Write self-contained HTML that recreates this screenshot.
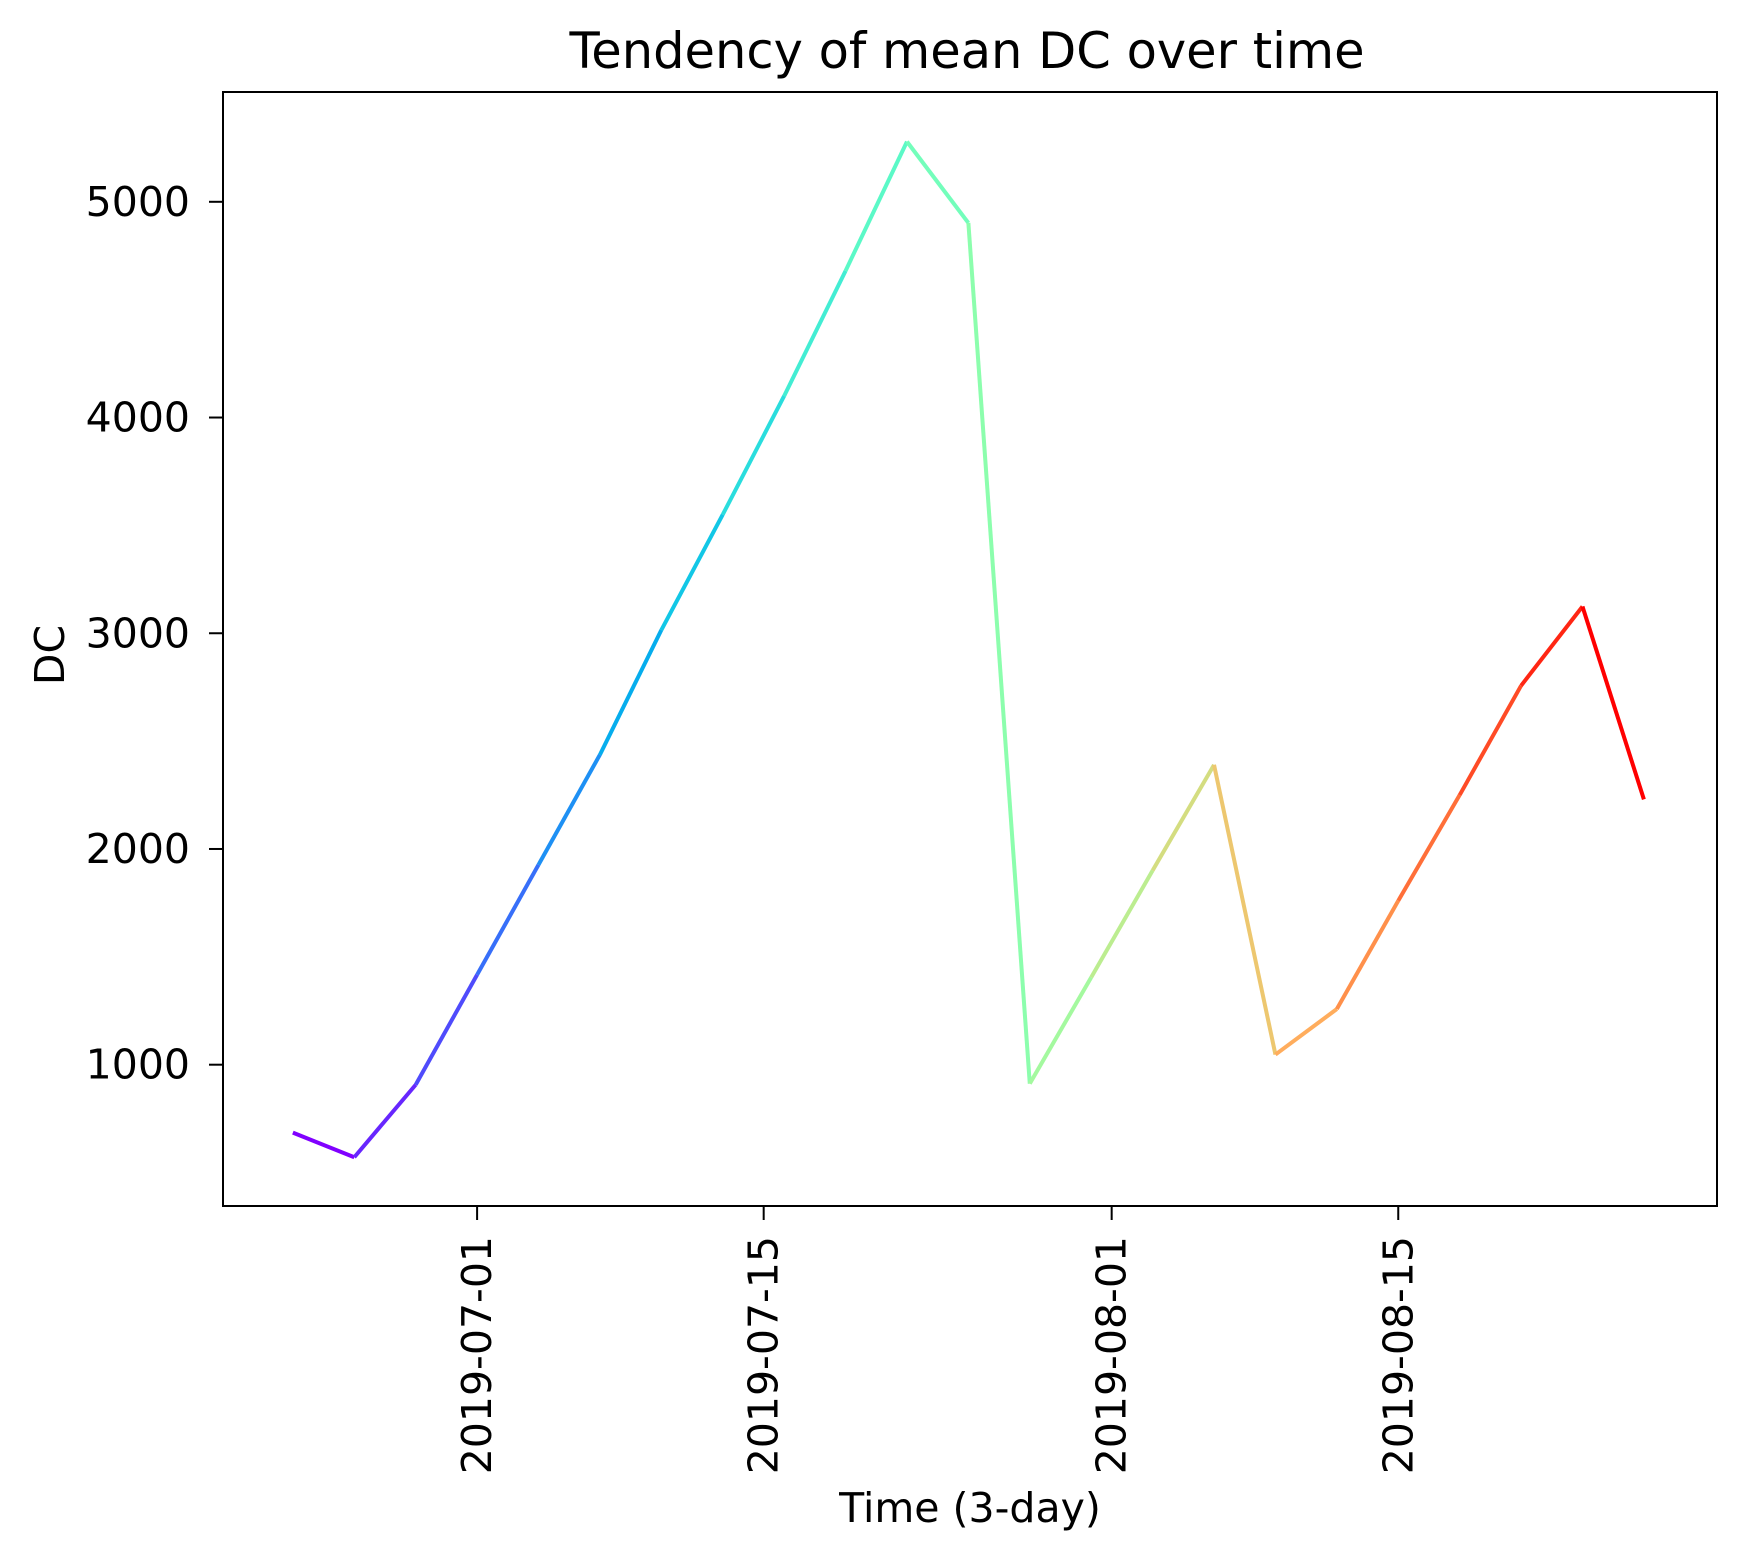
<!DOCTYPE html>
<html><head><meta charset="utf-8"><style>
html,body{margin:0;padding:0;background:#fff}
svg{display:block;font-family:"DejaVu Sans","Liberation Sans",sans-serif}
</style></head><body>
<svg id="chart" width="1739" height="1559" viewBox="0 0 1739 1559">
<rect x="0" y="0" width="1739" height="1559" fill="#fff"/>
<text x="967" y="68" font-size="49.5" text-anchor="middle">Tendency of mean DC over time</text>
<g id="plot"></g>
<rect x="223" y="92" width="1494" height="1114" fill="none" stroke="#000" stroke-width="2"/>
<text x="0" y="0" font-size="41" text-anchor="middle" transform="translate(64,655) rotate(-90)">DC</text>
<text x="970" y="1522" font-size="41" text-anchor="middle">Time (3-day)</text>
</svg>
<script>
const days = [-9,-6,-3,0,3,6,9,12,15,18,21,24,27,30,33,36,39,42,45,48,51,54,57];
const values = [685,571,907,1417,1927,2437,3015,3550,4100,4680,5279,4902,912,1405,1900,2390,1047,1258,1760,2250,2757,3124,2230];
const yTicks = [1000,2000,3000,4000,5000];
const xTickDays = [0,14,31,45];
const xTickLabels = ["2019-07-01","2019-07-15","2019-08-01","2019-08-15"];

const NS = "http://www.w3.org/2000/svg";
const g = document.getElementById("plot");
const L=223,R=1717,T=92,B=1206;
function xs(d){return 477.1 + d*20.47;}
function ys(v){return 1064.7 - (v-1000)*(1064.7-201.8)/4000;}
function rainbow(t){
  const r=Math.min(1,Math.max(0,Math.abs(2*t-0.5)));
  const gg=Math.min(1,Math.max(0,Math.sin(Math.PI*t)));
  const b=Math.min(1,Math.max(0,Math.cos(Math.PI*t/2)));
  return `rgb(${Math.round(r*255)},${Math.round(gg*255)},${Math.round(b*255)})`;
}
function mk(tag,attrs){const e=document.createElementNS(NS,tag);for(const k in attrs)e.setAttribute(k,attrs[k]);g.appendChild(e);return e;}

yTicks.forEach((v,i)=>{
  const y=ys(v);
  const t=mk("line",{x1:L-14,x2:L,y1:y,y2:y,stroke:"#000","stroke-width":2});
  
  
  const lb=mk("text",{x:190,y:y+14,"font-size":41,"text-anchor":"end"});
  lb.textContent=v;
  
  
});
xTickDays.forEach((d,i)=>{
  const x=xs(d);
  const t=mk("line",{x1:x,x2:x,y1:B,y2:B+14,stroke:"#000","stroke-width":2});
  
  
  const lb=mk("text",{x:0,y:0,"font-size":41,"text-anchor":"end",transform:`translate(${x+14},${B+30}) rotate(-90)`});
  lb.textContent=xTickLabels[i];
  
  
});
const n=values.length;
for(let i=0;i<n-1;i++){
  const s=mk("line",{x1:xs(days[i]),y1:ys(values[i]),x2:xs(days[i+1]),y2:ys(values[i+1]),stroke:rainbow(i/(n-2)),"stroke-width":4,"stroke-linecap":"butt"});
  
  
}
</script>
</body></html>
